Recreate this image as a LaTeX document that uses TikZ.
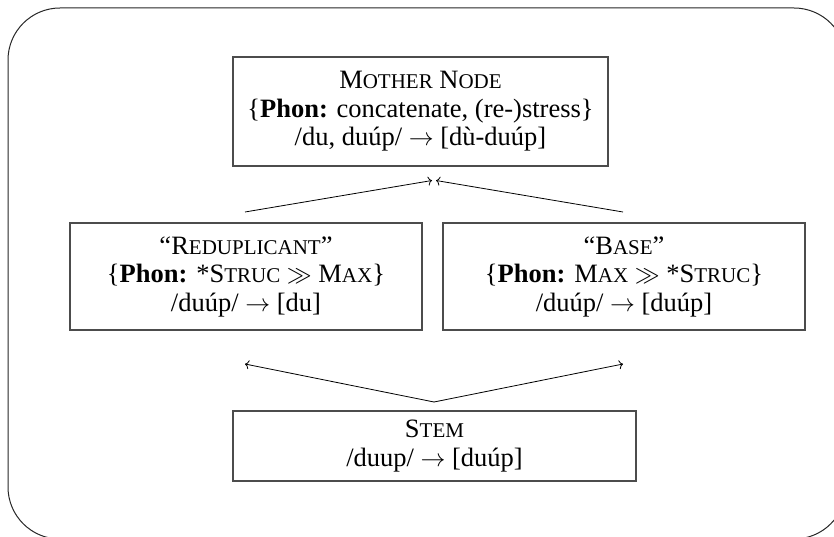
\documentclass[tikz,border=0pt]{standalone}
\usepackage{fontspec}
\setmainfont{Liberation Serif}
\usetikzlibrary{arrows.meta}
\newcommand{\fsc}[1]{{\fontsize{21}{28.5}\selectfont #1}}
\tikzset{
  box/.style={draw=black!70, line width=1.1pt, inner sep=0pt, align=center,
    font=\fontsize{26.5}{28.5}\selectfont},
  conn/.style={draw=black, line width=0.8pt, -{To[length=4pt,width=9pt]}},
  frame/.style={draw=black!85, line width=1pt, rounded corners=52pt}
}
\begin{document}
\begin{tikzpicture}[x=1pt,y=-1pt]
\clip (0,0) rectangle (834,537);
\draw[frame] (8,8) rectangle (846,539);

\node[box, minimum width=375pt, minimum height=109pt] (mother) at (420.5,111.5)
  {M\fsc{OTHER} N\fsc{ODE}\\ \{\textbf{Phon:} concatenate, (re-)stress\}\\ /du, du\'up/ $\rightarrow$ [d\`u-du\'up]};
\node[box, minimum width=352pt, minimum height=107pt] (redup) at (246,276.5)
  {``R\fsc{EDUPLICANT}''\\ \{\textbf{Phon:} *S\fsc{TRUC} $\gg$ M\fsc{AX}\}\\ /du\'up/ $\rightarrow$ [du]};
\node[box, minimum width=362pt, minimum height=107pt] (base) at (624,276.5)
  {``B\fsc{ASE}''\\ \{\textbf{Phon:} M\fsc{AX} $\gg$ *S\fsc{TRUC}\}\\ /du\'up/ $\rightarrow$ [du\'up]};
\node[box, minimum width=403pt, minimum height=70pt] (stem) at (434.5,446)
  {S\fsc{TEM}\\ /duup/ $\rightarrow$ [du\'up]};

\coordinate (upL) at (245,212);
\coordinate (upR) at (623,212);
\coordinate (tipL) at (432,180.5);
\coordinate (tipR) at (436,180.5);
\coordinate (dnL) at (245,364);
\coordinate (dnR) at (623,364);
\coordinate (root) at (434,402);

\draw[conn] (upL) -- (tipL);
\draw[conn] (upR) -- (tipR);
\draw[conn] (root) -- (dnL);
\draw[conn] (root) -- (dnR);
\end{tikzpicture}
\end{document}
